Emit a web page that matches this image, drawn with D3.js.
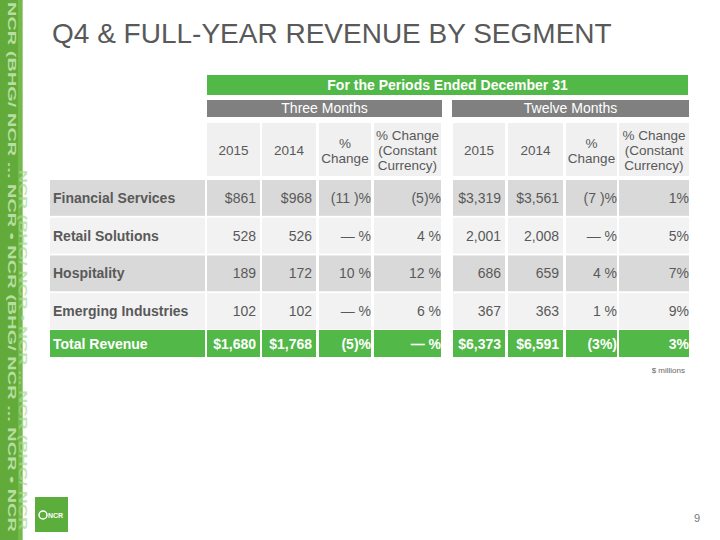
<!DOCTYPE html>
<html><head><meta charset="utf-8">
<script src="https://cdn.jsdelivr.net/npm/d3@7"></script>
<style>
html,body{margin:0;padding:0;background:#fff;}
svg{display:block;font-family:"Liberation Sans",Arial,sans-serif;}
</style></head>
<body>
<svg id="c" width="720" height="540"></svg>
<script>
// ---- data ----
const title = "Q4 & FULL-YEAR REVENUE BY SEGMENT";
const periodHeader = "For the Periods Ended December 31";
const groups = ["Three Months", "Twelve Months"];
const columnHeaders = [["2015"], ["2014"], ["%", "Change"], ["% Change", "(Constant", "Currency)"]];
const segments = ["Financial Services", "Retail Solutions", "Hospitality", "Emerging Industries"];
const q2015 = ["$861", "528", "189", "102"];
const q2014 = ["$968", "526", "172", "102"];
const qChange = ["(11 )%", "— %", "10 %", "— %"];
const qConst = ["(5)%", "4 %", "12 %", "6 %"];
const y2015 = ["$3,319", "2,001", "686", "367"];
const y2014 = ["$3,561", "2,008", "659", "363"];
const yChange = ["(7 )%", "— %", "4 %", "1 %"];
const yConst = ["1%", "5%", "7%", "9%"];
const totalLabel = "Total Revenue";
const totalQ = ["$1,680", "$1,768", "(5)%", "— %"];
const totalY = ["$6,373", "$6,591", "(3%)", "3%"];
const unitNote = "$ millions";
const pageNumber = "9";

// ---- layout ----
const GREEN = "#52b848", GRAY = "#808080", TXT = "#595959";
const svg = d3.select("#c");

// left decorative stripe
svg.append("rect").attr("x", 0).attr("y", 0).attr("width", 22).attr("height", 540).attr("fill", "#62ab3a");
svg.append("rect").attr("x", 18).attr("y", 0).attr("width", 5).attr("height", 540).attr("fill", "#7bbf55").attr("opacity", 0.7);
const stripeText = "NCR (BHG/ NCR ... NCR \u2022 NCR (BHG/ NCR ... NCR \u2022 NCR";
svg.append("text").attr("transform", "translate(8,2) rotate(90)")
  .attr("font-size", 11).attr("font-weight", "bold").attr("fill", "#c7e6b3").attr("opacity", 0.85)
  .attr("textLength", 530).attr("lengthAdjust", "spacingAndGlyphs")
  .text(stripeText);
svg.append("text").attr("transform", "translate(19,170) rotate(90)")
  .attr("font-size", 10).attr("font-weight", "bold").attr("fill", "#a9d98e").attr("opacity", 0.7)
  .attr("textLength", 360).attr("lengthAdjust", "spacingAndGlyphs")
  .text("NCR (BHG/ NCR \u2022 NCR ... NCR (BHG/ NCR");

// title
svg.append("text").attr("x", 52).attr("y", 43).attr("font-size", 28).attr("fill", TXT).text(title);

// columns
const colKeys = ["q0", "q1", "q2", "q3", "y0", "y1", "y2", "y3"];
const colEdges = {
  q0: [207, 260], q1: [262, 316], q2: [319, 371], q3: [374, 441],
  y0: [453, 505], y1: [508, 563], y2: [566, 617], y3: [619, 689]
};

// period header
svg.append("rect").attr("x", 207).attr("y", 75).attr("width", 481).attr("height", 20).attr("fill", GREEN);
svg.append("text").attr("x", 447.5).attr("y", 90).attr("text-anchor", "middle").attr("font-size", 14)
  .attr("font-weight", "bold").attr("fill", "#fff").text(periodHeader);

// group headers
const gEdges = [[207, 442], [452, 689]];
groups.forEach((g, i) => {
  svg.append("rect").attr("x", gEdges[i][0]).attr("y", 100).attr("width", gEdges[i][1] - gEdges[i][0]).attr("height", 17).attr("fill", GRAY);
  svg.append("text").attr("x", (gEdges[i][0] + gEdges[i][1]) / 2).attr("y", 113).attr("text-anchor", "middle")
    .attr("font-size", 14).attr("fill", "#fff").text(g);
});

// column header cells
colKeys.forEach((k, i) => {
  const [x0, x1] = colEdges[k];
  svg.append("rect").attr("x", x0).attr("y", 123).attr("width", x1 - x0).attr("height", 53).attr("fill", "#f0f0f0");
  const lines = columnHeaders[i % 4];
  const lh = 15, cy = 150;
  const t = svg.append("text").attr("text-anchor", "middle").attr("font-size", 13.5).attr("fill", TXT);
  lines.forEach((ln, j) => {
    t.append("tspan").attr("x", (x0 + x1) / 2)
      .attr("y", cy + (j - (lines.length - 1) / 2) * lh + 5).text(ln);
  });
});

// rows
const y = d3.scaleBand().domain(segments).range([180, 329]).paddingInner(0.05).paddingOuter(0);
const rowColors = ["#d9d9d9", "#f2f2f2", "#d9d9d9", "#f2f2f2"];
const rowValues = segments.map((s, i) => [q2015[i], q2014[i], qChange[i], qConst[i], y2015[i], y2014[i], yChange[i], yConst[i]]);
const pad = { q0: 4, q1: 4, q2: 0, q3: 0, y0: 4, y1: 4, y2: 0, y3: 0 };

segments.forEach((s, i) => {
  const ry = y(s), rh = y.bandwidth();
  svg.append("rect").attr("x", 50).attr("y", ry).attr("width", 155).attr("height", rh).attr("fill", rowColors[i]);
  svg.append("text").attr("x", 53).attr("y", ry + rh / 2 + 5).attr("font-size", 14).attr("font-weight", "bold")
    .attr("fill", TXT).text(s);
  colKeys.forEach((k, j) => {
    const [x0, x1] = colEdges[k];
    svg.append("rect").attr("x", x0).attr("y", ry).attr("width", x1 - x0).attr("height", rh).attr("fill", rowColors[i]);
    svg.append("text").attr("x", x1 - pad[k]).attr("y", ry + rh / 2 + 5).attr("text-anchor", "end")
      .attr("font-size", 14).attr("fill", TXT).text(rowValues[i][j]);
  });
});

// total row
const ty = 330, th = 27;
const totals = totalQ.concat(totalY);
svg.append("rect").attr("x", 50).attr("y", ty).attr("width", 155).attr("height", th).attr("fill", GREEN);
svg.append("text").attr("x", 53).attr("y", ty + th / 2 + 5).attr("font-size", 14).attr("font-weight", "bold")
  .attr("fill", "#fff").text(totalLabel);
colKeys.forEach((k, j) => {
  const [x0, x1] = colEdges[k];
  svg.append("rect").attr("x", x0).attr("y", ty).attr("width", x1 - x0).attr("height", th).attr("fill", GREEN);
  svg.append("text").attr("x", x1 - pad[k]).attr("y", ty + th / 2 + 5).attr("text-anchor", "end")
    .attr("font-size", 14).attr("font-weight", "bold").attr("fill", "#fff").text(totals[j]);
});

// unit note
svg.append("text").attr("x", 685).attr("y", 373).attr("text-anchor", "end").attr("font-size", 8).attr("fill", "#666").text(unitNote);

// logo
svg.append("rect").attr("x", 35).attr("y", 497).attr("width", 33).attr("height", 35).attr("fill", "#5cae3c");
svg.append("circle").attr("cx", 43).attr("cy", 515).attr("r", 4).attr("fill", "none").attr("stroke", "#fff").attr("stroke-width", 1.5);
svg.append("text").attr("x", 48).attr("y", 518).attr("font-size", 7).attr("font-weight", "bold").attr("fill", "#fff").text("NCR");

// page number
svg.append("text").attr("x", 700).attr("y", 522).attr("text-anchor", "end").attr("font-size", 11).attr("fill", "#777").text(pageNumber);
</script>
</body></html>
